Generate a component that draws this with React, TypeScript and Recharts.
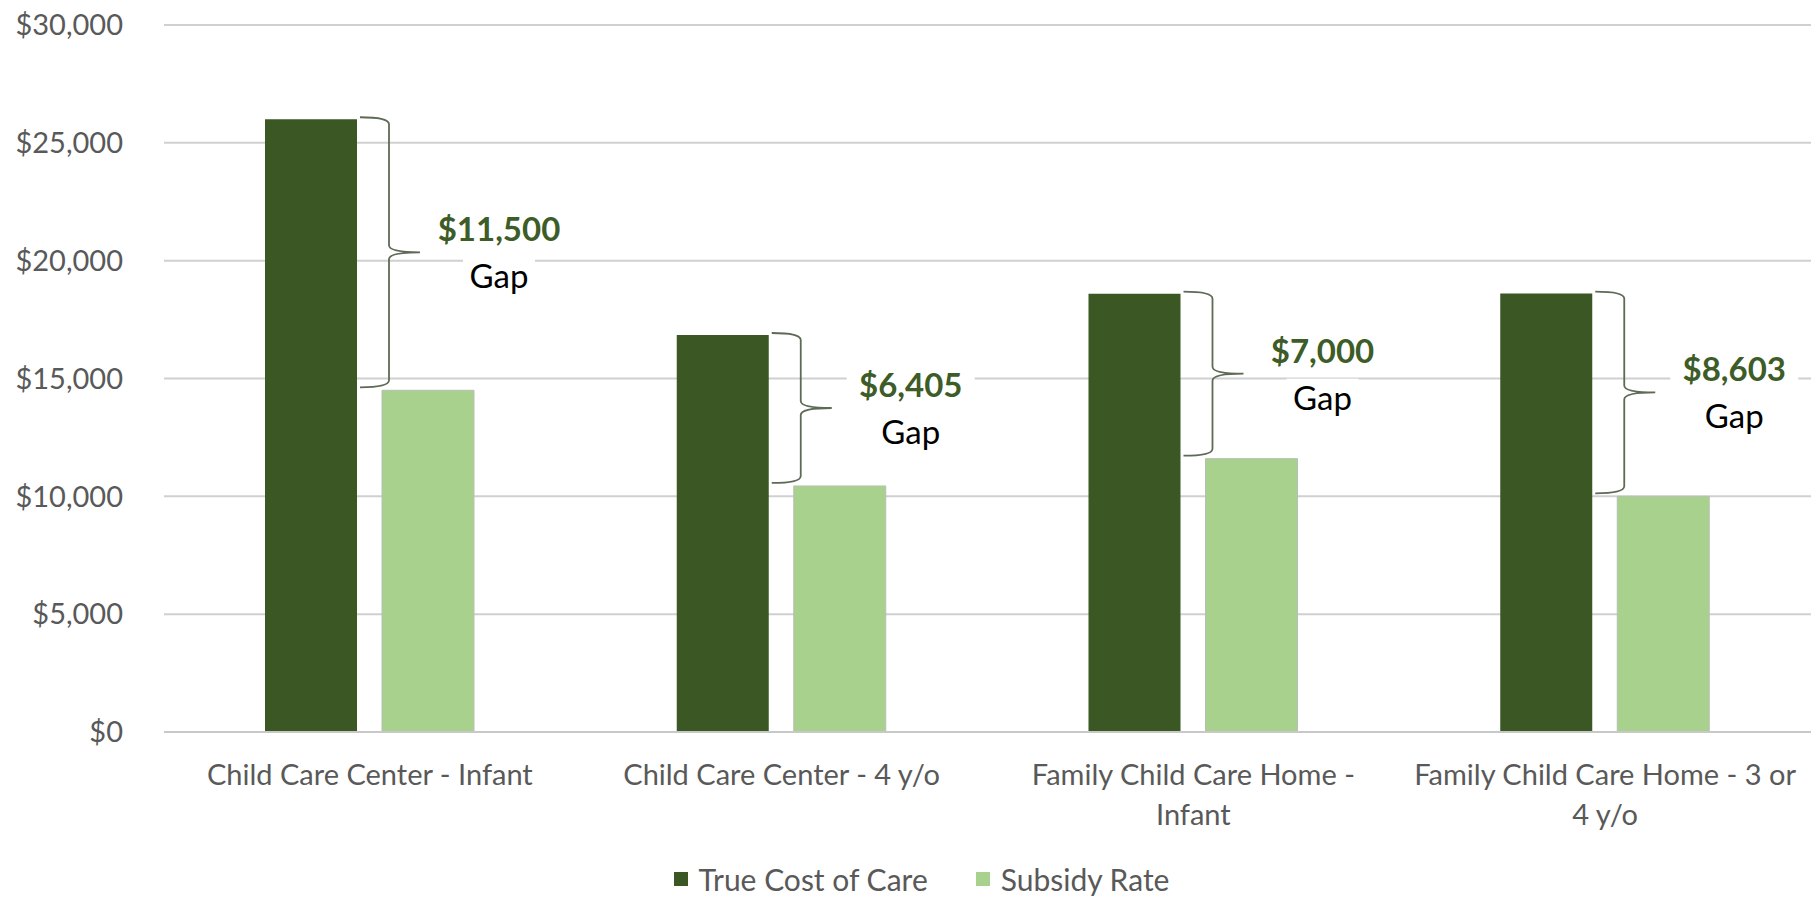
import React from 'react';
import { BarChart, Bar, XAxis, YAxis, CartesianGrid, Legend, Rectangle } from 'recharts';

const categories = [
  'Child Care Center - Infant',
  'Child Care Center - 4 y/o',
  'Family Child Care Home - Infant',
  'Family Child Care Home - 3 or 4 y/o',
];
const trueCostOfCare = [26000, 16845, 18600, 18603];
const subsidyRate = [14500, 10440, 11600, 10000];
const yTicks = [0, 5000, 10000, 15000, 20000, 25000, 30000];
const seriesNames = ['True Cost of Care', 'Subsidy Rate'];
const seriesColors = ['#3B5724', '#A9D18E'];

const data = categories.map((category, i) => ({
  category,
  trueCost: trueCostOfCare[i],
  subsidy: subsidyRate[i],
}));

const FONT = 'Lato, "Open Sans", sans-serif';
const GREY = '#595959';
const LABEL_GREEN = '#3D5C27';

const money = (v: number) => '$' + v.toLocaleString('en-US');

const wrapLabel = (s: string, maxChars = 29): string[] => {
  const words = s.split(' ');
  const lines: string[] = [];
  let cur = '';
  words.forEach((w) => {
    const next = cur ? cur + ' ' + w : w;
    if (next.length > maxChars && cur) {
      lines.push(cur);
      cur = w;
    } else {
      cur = next;
    }
  });
  if (cur) lines.push(cur);
  return lines;
};

const XTick = (props: any) => {
  const { x, y, payload } = props;
  const lines = wrapLabel(String(payload.value));
  return (
    <text x={x} y={y} textAnchor="middle" fill={GREY} fontSize={29} fontFamily={FONT}>
      {lines.map((l, i) => (
        <tspan key={i} x={x} dy={i === 0 ? 53 : 40}>
          {l}
        </tspan>
      ))}
    </text>
  );
};

const DarkBarShape = (props: any) => {
  const { x, y, width, height, payload, fill } = props;
  const scale = height / payload.trueCost;
  const lightY = y + height - payload.subsidy * scale;
  const gap = payload.trueCost - payload.subsidy;
  const right = x + width;
  const xL = right + 3;
  const xV = right + 32;
  const xT = right + 63;
  const yT = y - 2;
  const yB = lightY - 3;
  const yM = (yT + yB) / 2;
  const r = 7;
  const d = [
    `M ${xL} ${yT}`,
    `Q ${xV} ${yT} ${xV} ${yT + r}`,
    `L ${xV} ${yM - r}`,
    `Q ${xV} ${yM} ${xT} ${yM}`,
    `Q ${xV} ${yM} ${xV} ${yM + r}`,
    `L ${xV} ${yB - r}`,
    `Q ${xV} ${yB} ${xL} ${yB}`,
  ].join(' ');
  const lx = right + 142;
  const valueY = yM - 23;
  const gapY = yM + 24;
  return (
    <g>
      <Rectangle x={x} y={y} width={width} height={height} fill={fill} />
      <path d={d} fill="none" stroke="#5E6A55" strokeWidth={1.8} />
      <rect x={lx - 64} y={valueY - 19} width={128} height={38} fill="#fff" />
      <rect x={lx - 36} y={gapY - 19} width={72} height={38} fill="#fff" />
      <text x={lx} y={valueY} dy="0.36em" textAnchor="middle" fontFamily={FONT} fontWeight={700} fontSize={33} fill={LABEL_GREEN}>
        {money(gap)}
      </text>
      <text x={lx} y={gapY} dy="0.36em" textAnchor="middle" fontFamily={FONT} fontSize={33} fill="#000">
        Gap
      </text>
    </g>
  );
};

const LegendContent = () => (
  <div
    style={{
      display: 'flex',
      justifyContent: 'center',
      alignItems: 'center',
      paddingLeft: 30,
      height: 36,
      fontFamily: FONT,
      fontSize: 30,
      color: GREY,
    }}
  >
    {seriesNames.map((n, i) => (
      <div key={n} style={{ display: 'flex', alignItems: 'center', marginLeft: i === 0 ? 0 : 48 }}>
        <div style={{ width: 14, height: 14, background: seriesColors[i], marginRight: 11 }} />
        <span>{n}</span>
      </div>
    ))}
  </div>
);

export default function App() {
  return (
    <div style={{ position: 'absolute', left: 0, top: 0, width: 1813, height: 898, background: '#fff' }}>
      <BarChart
        width={1813}
        height={898}
        data={data}
        margin={{ top: 25, right: 2, bottom: 0, left: 0 }}
        barSize={92}
        barGap={25}
      >
        <CartesianGrid vertical={false} stroke="#d0d0d0" strokeWidth={2} />
        <XAxis
          dataKey="category"
          height={166}
          tickLine={false}
          tickSize={0}
          tickMargin={0}
          axisLine={{ stroke: '#c8c8c8', strokeWidth: 2 }}
          tick={<XTick />}
          interval={0}
        />
        <YAxis
          width={164}
          domain={[0, 30000]}
          ticks={yTicks}
          tickFormatter={money}
          axisLine={false}
          tickLine={false}
          tickSize={6}
          tickMargin={35}
          tick={{ fill: GREY, fontSize: 29, fontFamily: FONT }}
        />
        <Legend
          layout="horizontal"
          verticalAlign="middle"
          align="center"
          wrapperStyle={{ top: 861, left: 0, width: 1813, height: 36 }}
          content={<LegendContent />}
        />
        <Bar dataKey="trueCost" name={seriesNames[0]} fill={seriesColors[0]} shape={<DarkBarShape />} isAnimationActive={false} />
        <Bar dataKey="subsidy" name={seriesNames[1]} fill={seriesColors[1]} stroke="#b8bfb2" strokeWidth={1} isAnimationActive={false} />
      </BarChart>
    </div>
  );
}
